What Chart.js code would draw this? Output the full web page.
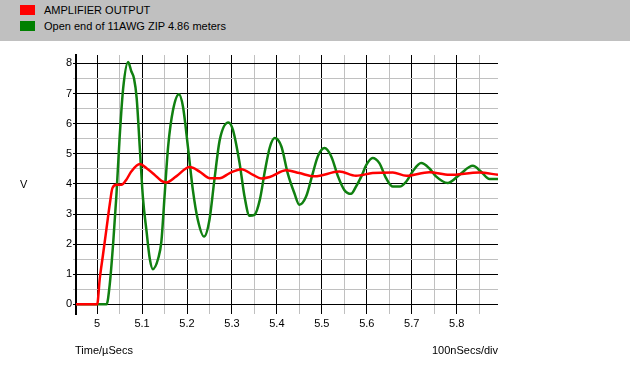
<!DOCTYPE html>
<html>
<head>
<meta charset="utf-8">
<script src="https://cdn.jsdelivr.net/npm/chart.js@4.4.1/dist/chart.umd.min.js"></script>
<style>
  body { margin: 0; background: #fff; font-family: "Liberation Sans", Arial, sans-serif; font-size: 11px; }
  #wrap { position: relative; width: 630px; height: 365px; overflow: hidden; }
  #legend { position: absolute; left: 0; top: 0; width: 630px; height: 41px; background: #c0c0c0; }
  .item { position: absolute; left: 20px; height: 12px; line-height: 12px; white-space: nowrap; }
  .item span.sw { position: absolute; left: 0; top: 0; width: 15px; height: 10px; }
  .item span.tx { position: absolute; left: 24px; top: -1px; color: #000; }
  .lbl { position: absolute; color: #000; white-space: nowrap; }
  canvas { position: absolute; left: 0; top: 0; }
</style>
</head>
<body>
<div id="wrap">
  <canvas id="myChart" width="630" height="365"></canvas>
  <div id="legend"></div>
  <div class="lbl" style="left:20px; top:178px;">V</div>
  <div class="lbl" style="left:75px; top:344px;">Time/µSecs</div>
  <div class="lbl" style="right:132px; top:344px;">100nSecs/div</div>
</div>
<script>
// Serien (Zeit in µs, Spannung in V)
const seriesNames = ['AMPLIFIER OUTPUT', 'Open end of 11AWG ZIP 4.86 meters'];
const seriesColors = ['#ff0000', '#108010'];

const ampTime = [4.953, 5.000, 5.006, 5.013, 5.021, 5.028, 5.034, 5.043, 5.054, 5.065, 5.076, 5.095, 5.110, 5.128, 5.143, 5.154, 5.176, 5.206, 5.228, 5.251, 5.273, 5.295, 5.321, 5.347, 5.365, 5.384, 5.421, 5.450, 5.484, 5.539, 5.576, 5.613, 5.658, 5.688, 5.739, 5.784, 5.850, 5.892];
const ampVolts = [0, 0, 0.87, 1.64, 2.53, 3.31, 3.86, 3.97, 3.97, 4.14, 4.41, 4.66, 4.52, 4.30, 4.10, 4.05, 4.25, 4.56, 4.41, 4.19, 4.19, 4.36, 4.49, 4.30, 4.18, 4.23, 4.45, 4.36, 4.25, 4.41, 4.27, 4.36, 4.38, 4.27, 4.39, 4.30, 4.38, 4.30];

const zipTime = [4.953, 5.021, 5.028, 5.036, 5.043, 5.050, 5.058, 5.069, 5.076, 5.082, 5.088, 5.095, 5.102, 5.110, 5.117, 5.124, 5.136, 5.143, 5.150, 5.158, 5.169, 5.182, 5.191, 5.202, 5.213, 5.224, 5.238, 5.250, 5.261, 5.273, 5.292, 5.302, 5.317, 5.328, 5.339, 5.350, 5.362, 5.373, 5.384, 5.395, 5.410, 5.424, 5.439, 5.450, 5.465, 5.480, 5.491, 5.506, 5.521, 5.536, 5.550, 5.565, 5.576, 5.588, 5.599, 5.613, 5.628, 5.643, 5.658, 5.673, 5.688, 5.702, 5.721, 5.739, 5.754, 5.780, 5.806, 5.836, 5.854, 5.873, 5.892];
const zipVolts = [0, 0, 0.65, 2.09, 3.64, 5.52, 7.18, 8.05, 7.74, 7.51, 6.85, 5.19, 3.53, 2.42, 1.53, 1.17, 1.53, 2.09, 3.58, 5.24, 6.46, 6.98, 6.57, 5.24, 3.80, 2.81, 2.25, 2.81, 4.14, 5.47, 6.04, 5.80, 4.69, 3.58, 2.94, 2.97, 3.47, 4.40, 5.20, 5.52, 5.24, 4.36, 3.69, 3.31, 3.58, 4.36, 4.91, 5.19, 4.91, 4.25, 3.80, 3.67, 3.91, 4.25, 4.63, 4.86, 4.69, 4.19, 3.91, 3.91, 4.08, 4.41, 4.69, 4.52, 4.25, 4.03, 4.30, 4.60, 4.41, 4.16, 4.16];

// Achsenbeschriftungen
const xTickValues = [5.0, 5.1, 5.2, 5.3, 5.4, 5.5, 5.6, 5.7, 5.8];
const xTickLabels = ['5', '5.1', '5.2', '5.3', '5.4', '5.5', '5.6', '5.7', '5.8'];
const yTickValues = [0, 1, 2, 3, 4, 5, 6, 7, 8];
const yTickLabels = ['0', '1', '2', '3', '4', '5', '6', '7', '8'];

// Legende (HTML, grauer Balken oben)
const legendBox = document.getElementById('legend');
seriesNames.forEach((name, i) => {
    const item = document.createElement('div');
    item.className = 'item';
    item.style.top = (5 + i * 16) + 'px';
    item.innerHTML = '<span class="sw" style="background:' + (i === 0 ? '#ff0000' : '#008000') + '"></span><span class="tx"></span>';
    item.querySelector('.tx').textContent = name;
    legendBox.appendChild(item);
});

function buildTicks(major, labels, half) {
    const ticks = [];
    major.forEach((v, i) => {
        ticks.push({ value: v, text: labels[i], minor: false });
        if (i < major.length - 1 || half) ticks.push({ value: +(v + (half || (major[1] - major[0]) / 2)).toFixed(3), text: '', minor: true });
    });
    return ticks;
}

const gridColor = ctx => (ctx.tick && ctx.tick.minor) ? '#c0c0c0' : '#000000';

const ctx = document.getElementById('myChart').getContext('2d');
const chart = new Chart(ctx, {
    type: 'line',
    data: {
        datasets: [
            {
                label: seriesNames[0],
                data: ampTime.map((t, i) => ({ x: t, y: ampVolts[i] })),
                borderColor: seriesColors[0],
                borderWidth: 2.5,
                pointRadius: 0,
                cubicInterpolationMode: 'monotone',
                fill: false
            },
            {
                label: seriesNames[1],
                data: zipTime.map((t, i) => ({ x: t, y: zipVolts[i] })),
                borderColor: seriesColors[1],
                borderWidth: 2.5,
                pointRadius: 0,
                cubicInterpolationMode: 'monotone',
                fill: false
            }
        ]
    },
    options: {
        responsive: false,
        animation: false,
        layout: { padding: { left: 0, top: 55, right: 132, bottom: 0 } },
        scales: {
            x: {
                type: 'linear',
                min: 4.953,
                max: 5.892,
                afterBuildTicks: scale => { scale.ticks = buildTicks(xTickValues, xTickLabels, 0.05); },
                afterFit: scale => { scale.height = 51; },
                border: { display: false },
                grid: { color: gridColor, lineWidth: 1, drawTicks: false },
                ticks: {
                    autoSkip: false,
                    maxRotation: 0,
                    padding: 3,
                    color: '#000',
                    font: { family: '"Liberation Sans", Arial', size: 11 },
                    callback: function (value, index, ticks) { return ticks[index].text; }
                }
            },
            y: {
                min: -0.32,
                max: 8.28,
                afterBuildTicks: scale => { scale.ticks = buildTicks(yTickValues, yTickLabels, 0); },
                afterFit: scale => { scale.width = 76; },
                border: { display: true, color: '#000', width: 2 },
                grid: { color: gridColor, lineWidth: 1, tickLength: 3 },
                ticks: {
                    autoSkip: false,
                    padding: 1,
                    color: '#000',
                    font: { family: '"Liberation Sans", Arial', size: 11 },
                    callback: function (value, index, ticks) { return ticks[index].text; }
                }
            }
        },
        plugins: {
            legend: { display: false },
            tooltip: { enabled: false }
        }
    }
});
</script>
</body>
</html>
